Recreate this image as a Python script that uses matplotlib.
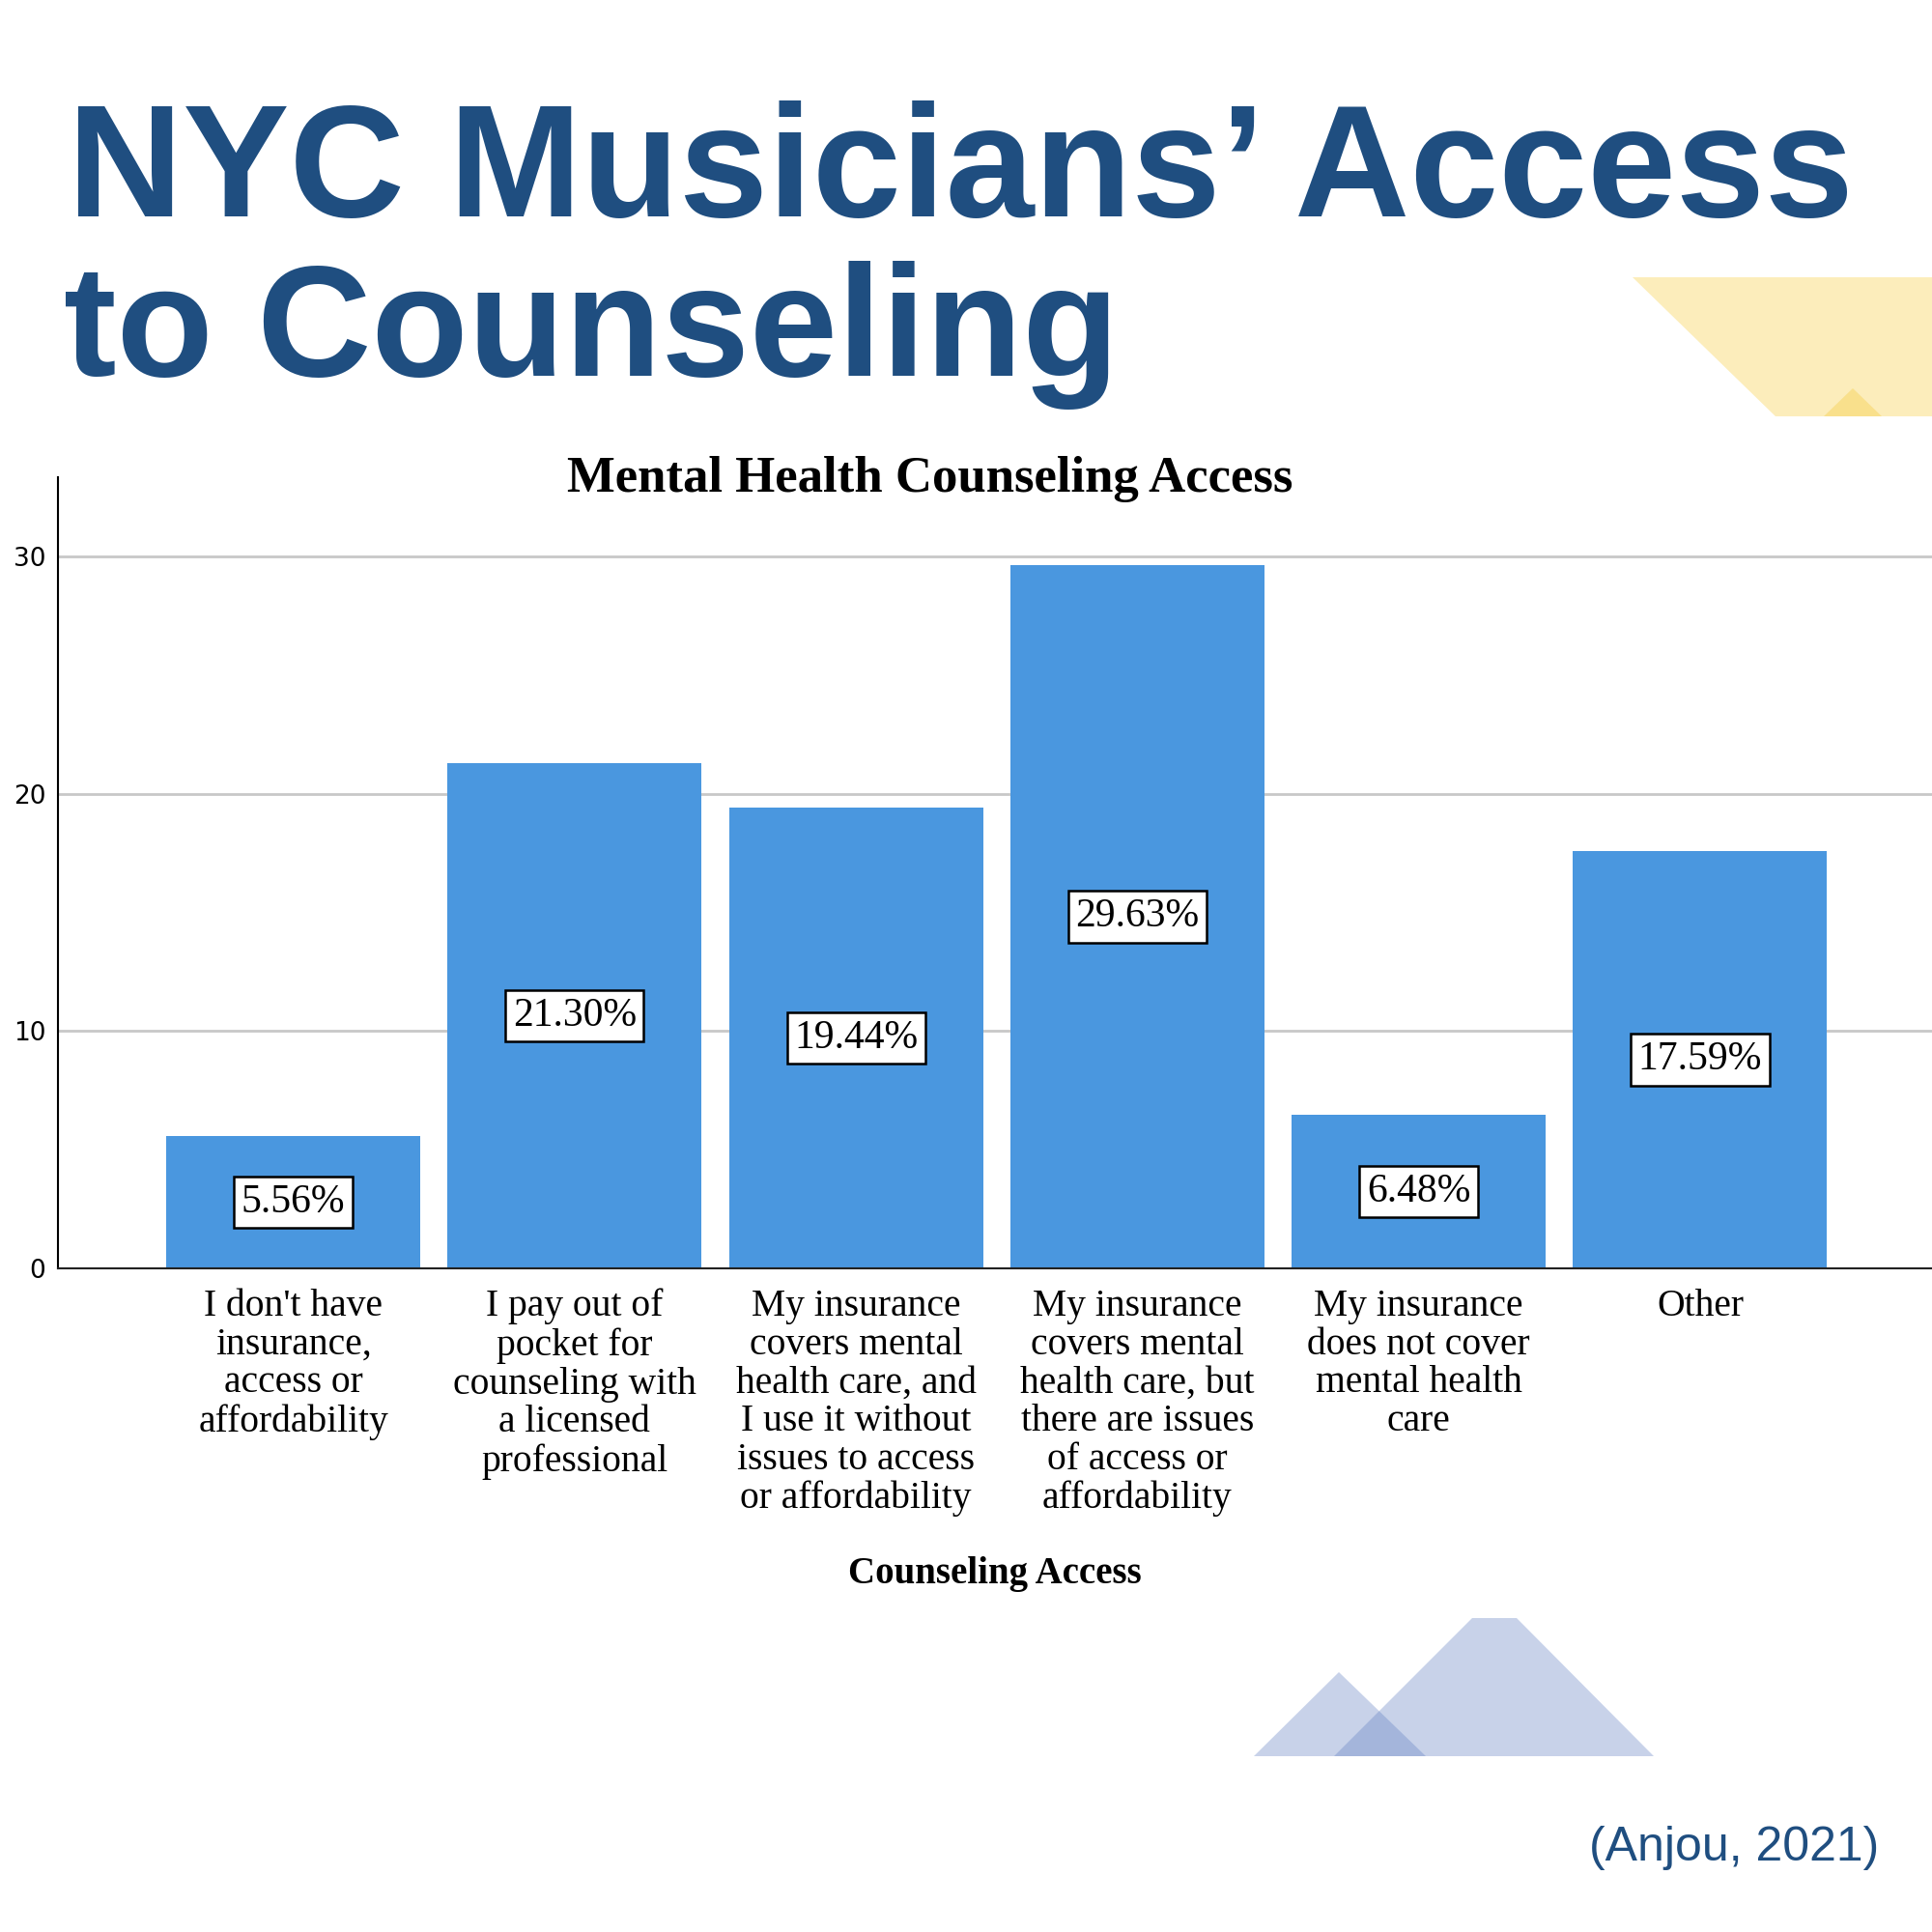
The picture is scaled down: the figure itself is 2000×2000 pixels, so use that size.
import matplotlib.pyplot as plt
from matplotlib.patches import Polygon

# survey results, percent of respondents
categories = [
    "I don't have\ninsurance,\naccess or\naffordability",
    "I pay out of\npocket for\ncounseling with\na licensed\nprofessional",
    "My insurance\ncovers mental\nhealth care, and\nI use it without\nissues to access\nor affordability",
    "My insurance\ncovers mental\nhealth care, but\nthere are issues\nof access or\naffordability",
    "My insurance\ndoes not cover\nmental health\ncare",
    "Other",
]
percents = [5.56, 21.30, 19.44, 29.63, 6.48, 17.59]
y_ticks = [0, 10, 20, 30]

title_blue = "#1f4e80"
bar_blue = "#4a97df"
serif = "Liberation Serif"

fig = plt.figure(figsize=(20, 20), dpi=100)


def px(x, y):
    # pixel position (from top-left) -> figure fraction
    return (x / 2000, 1 - y / 2000)


# decorative shapes
yellow = [px(1690, 287), px(2000, 287), px(2000, 431), px(1838, 431)]
fig.patches.append(Polygon(yellow, closed=True, fc="#fcedbb", ec="none",
                           transform=fig.transFigure, zorder=0))
fig.patches.append(Polygon([px(1888, 431), px(1918, 402), px(1948, 431)], closed=True,
                           fc="#f9e08c", ec="none", transform=fig.transFigure, zorder=0))
fig.patches.append(Polygon([px(1298, 1818), px(1386, 1731), px(1476, 1818)], closed=True,
                           fc="#607fc2", alpha=0.345, ec="none",
                           transform=fig.transFigure, zorder=0))
fig.patches.append(Polygon([px(1381, 1818), px(1524, 1675), px(1570, 1675), px(1712, 1818)],
                           closed=True, fc="#607fc2", alpha=0.345, ec="none",
                           transform=fig.transFigure, zorder=0))

# big slide title
fig.text(*px(70, 224), "NYC Musicians\u2019 Access", fontsize=119, fontweight="bold",
         family="Liberation Sans", color=title_blue, va="baseline", ha="left")
fig.text(*px(66, 389), "to Counseling", fontsize=118, fontweight="bold",
         family="Liberation Sans", color=title_blue, va="baseline", ha="left")

# chart
ax = fig.add_axes([0.03, 0.3435, 0.97, 0.4095])
x = list(range(len(categories)))
ax.bar(x, percents, width=0.903, color=bar_blue, zorder=2)

for xi, v in zip(x, percents):
    ax.text(xi, v / 2, f"{v:.2f}%", ha="center", va="center", fontsize=30,
            family=serif, zorder=3,
            bbox=dict(boxstyle="square,pad=0.18", fc="white", ec="black", lw=1.8))

ax.set_xlim(-0.836, 5.824)
ax.set_ylim(0, 33.35)
ax.set_yticks(y_ticks)
ax.set_xticks(x)
ax.set_xticklabels(categories, fontsize=28.5, family=serif, linespacing=1.1)
ax.tick_params(axis="x", length=0, pad=15)
ax.tick_params(axis="y", length=0, pad=9, labelsize=19)
ax.yaxis.grid(True, color="#c8c8c8", lw=2)
ax.set_axisbelow(True)
for side in ["top", "right"]:
    ax.spines[side].set_visible(False)
ax.spines["left"].set_linewidth(1.5)
ax.spines["bottom"].set_linewidth(1.5)
ax.spines["bottom"].set_color("#222222")
ax.patch.set_alpha(0)

ax.set_xlabel("Counseling Access", fontsize=28, fontweight="bold", family=serif)
ax.xaxis.set_label_coords(0.5, (1313 - 1611) / 819)

fig.text(*px(963, 496), "Mental Health Counseling Access", fontsize=38,
         fontweight="bold", family=serif, ha="center", va="center")

fig.text(*px(1945, 1913), "(Anjou, 2021)", fontsize=36, family="Liberation Sans",
         color=title_blue, ha="right", va="center")

fig.savefig("out.png", dpi=100)
